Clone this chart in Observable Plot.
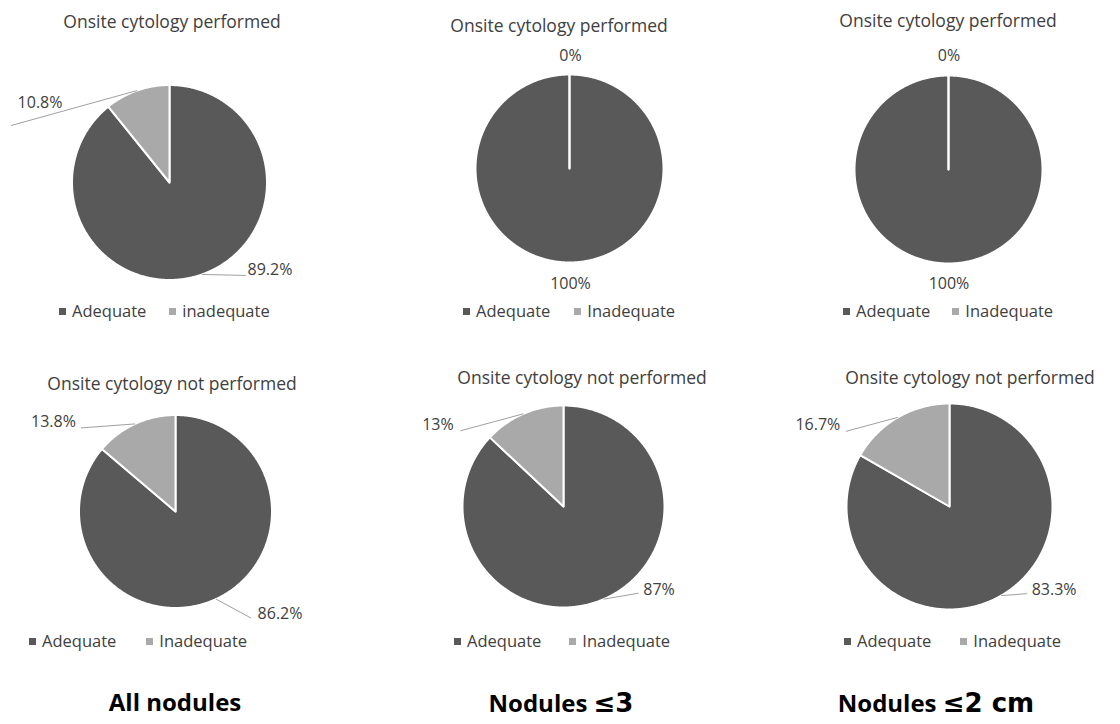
<!DOCTYPE html>
<html>
<head>
<meta charset="utf-8">
<script src="https://cdn.jsdelivr.net/npm/d3@7"></script>
<script src="https://cdn.jsdelivr.net/npm/@observablehq/plot@0.6"></script>
<style>
  html, body { margin: 0; padding: 0; background: #fff; }
  #root { position: relative; width: 1120px; height: 724px; overflow: hidden; font-family: "Open Sans", sans-serif; color: #404040; }
  .abs { position: absolute; white-space: nowrap; }
  .title { font-size: 17.5px; line-height: 1; transform: translateX(-50%); }
  .legend { font-size: 16.5px; line-height: 1; color: #404040; }
  .legend .sw { display: inline-block; width: 7px; height: 7px; margin-right: 6px; vertical-align: 2px; }
  .group { font-size: 24px; font-weight: 700; color: #000; line-height: 1; transform: translateX(-50%); }
  .group .sym { font-family: "DejaVu Sans", sans-serif; font-size: 26px; font-weight: 700; line-height: 1; }
</style>
</head>
<body>
<div id="root"></div>
<script>
// ---------- data ----------
const categories = ["Adequate", "Inadequate"];
const panelTitles = [
  "Onsite cytology performed", "Onsite cytology performed", "Onsite cytology performed",
  "Onsite cytology not performed", "Onsite cytology not performed", "Onsite cytology not performed"
];
const adequatePct   = [89.2, 100, 100, 86.2, 87, 83.3];
const inadequatePct = [10.8, 0, 0, 13.8, 13, 16.7];
const legendNames = [
  ["Adequate", "inadequate"], ["Adequate", "Inadequate"], ["Adequate", "Inadequate"],
  ["Adequate", "Inadequate"], ["Adequate", "Inadequate"], ["Adequate", "Inadequate"]
];
const groupLabels = ["All nodules", "Nodules \u22643", "Nodules \u22642 cm"];

// ---------- styles / layout ----------
const colors = ["#595959", "#a9a9a9"];
const W = 400, H = 300;
const layout = [
  {cx: 168.5, cy: 182,   r: 97.5,  title: [172, 29],  legend: [59, 318],  gap: 23,
   callouts: [{lead: [44, 1], text: [68, -5]}, {lead: [-126, 35], text: [-97, 12]}]},
  {cx: 569,   cy: 168,   r: 94,    title: [559, 33],  legend: [463, 318], gap: 24,
   callouts: [{text: [1, 21]}, {text: [1, -19]}]},
  {cx: 948,   cy: 169,   r: 94,    title: [948, 28],  legend: [843, 318], gap: 22,
   callouts: [{text: [0.5, 20]}, {text: [0.5, -20]}]},
  {cx: 174.5, cy: 510.5, r: 96.5,  title: [172, 391], legend: [29, 648],  gap: 30,
   callouts: [{lead: [35, 19], text: [64, 14.4]}, {lead: [-54, 4], text: [-81.5, -2]}]},
  {cx: 563,   cy: 506,   r: 101,   title: [582, 385], legend: [454, 648], gap: 28,
   callouts: [{lead: [35, -6], text: [55.4, -9.7]}, {lead: [-63, 17], text: [-85.4, 10.7]}]},
  {cx: 949,   cy: 505.5, r: 103,   title: [970, 385], legend: [844, 648], gap: 29,
   callouts: [{lead: [26, -2], text: [53, -6]}, {lead: [-52, 14], text: [-80, 7.6]}]}
];
const groupPos = [[175, 714], [561, 714], [936, 714]];
const TITLE_F = 17.5, LEG_F = 16.5;

const root = document.getElementById("root");

panelTitles.forEach((title, i) => {
  const L = layout[i];
  const values = [adequatePct[i], inadequatePct[i]];
  const arcs = d3.pie().sort(null)(values);

  // slice outlines derived from the values
  const pts = [];
  const labels = [];
  const leaders = [];
  arcs.forEach((a, k) => {
    const cat = categories[k];
    const span = a.endAngle - a.startAngle;
    const n = Math.max(2, Math.ceil(span / (Math.PI / 360)));
    pts.push({cat, x: 0, y: 0});
    for (let j = 0; j <= n; j++) {
      const t = a.startAngle + span * j / n;
      pts.push({cat, x: L.r * Math.sin(t), y: -L.r * Math.cos(t)});
    }
    pts.push({cat, x: 0, y: 0});
    const mid = (a.startAngle + a.endAngle) / 2;
    const ax = L.r * Math.sin(mid), ay = -L.r * Math.cos(mid);
    const c = L.callouts[k];
    labels.push({x: ax + c.text[0], y: ay + c.text[1], label: `${values[k]}%`});
    if (c.lead) leaders.push({x1: ax, y1: ay, x2: ax + c.lead[0], y2: ay + c.lead[1]});
  });

  const svg = Plot.plot({
    width: W, height: H, margin: 0,
    style: {background: "transparent", overflow: "visible"},
    x: {domain: [-W / 2, W / 2], range: [0, W], axis: null},
    y: {domain: [-H / 2, H / 2], range: [0, H], axis: null},
    color: {domain: categories, range: colors},
    marks: [
      Plot.line(pts, {x: "x", y: "y", z: "cat", fill: "cat", stroke: "white", strokeWidth: 2, strokeLinejoin: "round", curve: "linear"}),
      Plot.link(leaders, {x1: "x1", y1: "y1", x2: "x2", y2: "y2", stroke: "#a0a0a0", strokeWidth: 1}),
      Plot.text(labels, {x: "x", y: "y", text: "label", fontSize: 16, fontFamily: "Open Sans", fill: "#404040"})
    ]
  });
  const holder = document.createElement("div");
  holder.className = "abs";
  holder.style.left = (L.cx - W / 2) + "px";
  holder.style.top = (L.cy - H / 2) + "px";
  holder.style.width = W + "px";
  holder.style.height = H + "px";
  holder.appendChild(svg);
  root.appendChild(holder);

  // title
  const t = document.createElement("div");
  t.className = "abs title";
  t.textContent = title;
  t.style.left = L.title[0] + "px";
  t.style.top = (L.title[1] - 0.888 * TITLE_F) + "px";
  root.appendChild(t);

  // legend
  const lg = document.createElement("div");
  lg.className = "abs legend";
  lg.style.left = L.legend[0] + "px";
  lg.style.top = (L.legend[1] - 0.888 * LEG_F) + "px";
  legendNames[i].forEach((name, k) => {
    const item = document.createElement("span");
    if (k > 0) item.style.marginLeft = L.gap + "px";
    const sw = document.createElement("span");
    sw.className = "sw";
    sw.style.background = colors[k];
    item.appendChild(sw);
    item.appendChild(document.createTextNode(name));
    lg.appendChild(item);
  });
  root.appendChild(lg);
});

// group labels under each column
groupLabels.forEach((g, i) => {
  const d = document.createElement("div");
  d.className = "abs group";
  const idx = g.indexOf("\u2264");
  if (idx >= 0) {
    d.appendChild(document.createTextNode(g.slice(0, idx)));
    const s = document.createElement("span");
    s.className = "sym";
    s.textContent = g.slice(idx);
    d.appendChild(s);
  } else {
    d.textContent = g;
  }
  d.style.left = groupPos[i][0] + "px";
  d.style.top = (groupPos[i][1] - 24) + "px";
  root.appendChild(d);
});
</script>
</body>
</html>
